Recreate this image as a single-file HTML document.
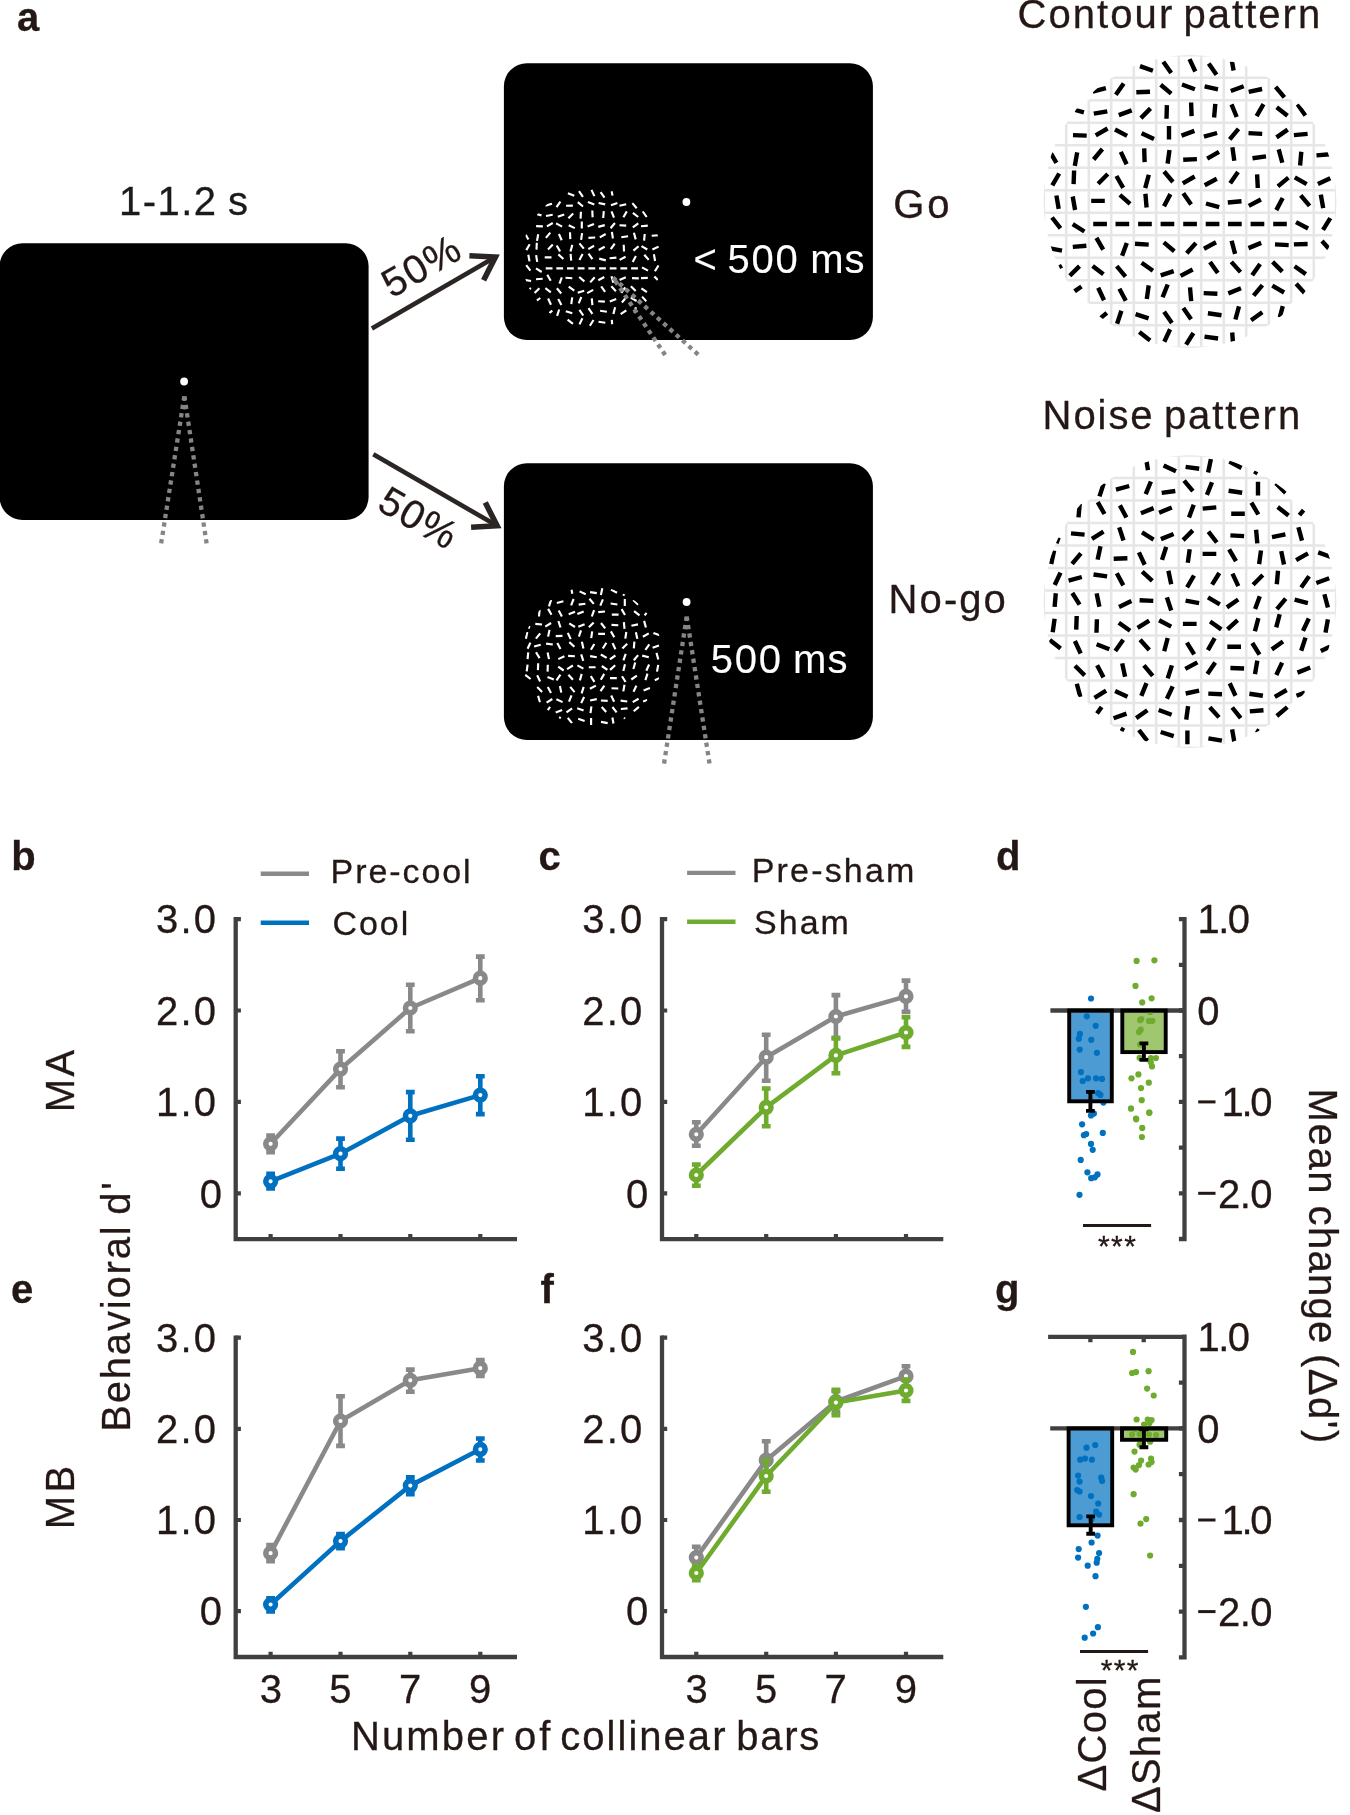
<!DOCTYPE html>
<html><head><meta charset="utf-8"><title>Figure</title>
<style>html,body{margin:0;padding:0;background:#fff}svg{display:block;will-change:transform}text{font-family:"Liberation Sans",sans-serif}</style></head><body>
<svg width="1350" height="1815" viewBox="0 0 1350 1815">
<rect width="1350" height="1815" fill="#fff"/>
<rect x="-0.4" y="243.2" width="369" height="276.8" rx="23" fill="#000"/>
<rect x="503.9" y="63.2" width="369" height="276.8" rx="23" fill="#000"/>
<rect x="503.9" y="463.2" width="369" height="276.8" rx="23" fill="#000"/>
<circle cx="184.1" cy="381.5" r="3.9" fill="#fff"/>
<circle cx="686.4" cy="202" r="3.9" fill="#fff"/>
<circle cx="686.6" cy="602" r="3.9" fill="#fff"/>
<clipPath id="cpA"><circle cx="591.8" cy="257.7" r="69.8"/></clipPath>
<g clip-path="url(#cpA)">
<path d="M567.9 193.3L574.3 195.7M579.0 191.2L582.9 196.8M591.5 189.9L594.4 196.1M600.6 192.1L604.5 197.6M611.7 191.2L612.5 195.6M545.4 205.6L552.0 203.8M556.5 207.1L560.4 201.6M566.1 205.8L572.9 205.6M577.8 202.2L583.0 206.5M587.9 202.1L594.3 204.4M598.6 203.0L605.2 204.4M611.0 205.3L617.4 202.9M619.5 205.7L626.2 204.3M632.4 203.1L636.7 208.3M537.2 214.2L541.5 215.4M546.0 216.0L552.7 214.8M557.8 216.7L564.2 214.4M568.4 218.2L573.2 213.4M580.6 218.6L580.9 211.8M592.3 210.5L592.6 217.3M603.2 218.0L603.8 211.2M611.5 211.4L614.0 217.7M623.4 217.3L626.8 211.4M632.9 212.8L638.2 217.0M642.8 211.4L646.7 217.0M536.1 226.1L542.9 226.4M546.9 226.4L552.8 223.0M556.1 223.4L562.1 226.6M568.7 225.2L574.8 228.1M581.8 228.4L581.8 221.6M587.6 226.4L594.0 224.1M598.3 226.9L604.8 225.1M610.6 228.3L614.9 223.0M619.5 225.2L626.2 225.6M632.8 227.4L638.3 223.4M641.0 226.2L647.8 225.6M525.7 234.7L528.4 239.5M537.0 240.9L538.2 234.2M545.9 237.9L550.3 232.6M558.9 234.0L561.7 240.2M570.0 232.3L570.3 239.1M581.1 239.9L582.1 233.1M588.4 237.9L595.2 237.5M599.8 237.4L605.7 234.0M611.9 231.8L612.9 238.5M621.3 237.2L628.1 236.3M633.9 232.8L635.7 239.4M644.1 240.7L644.7 234.0M651.7 235.8L658.5 235.2M526.3 250.1L529.7 244.3M536.5 249.6L536.8 242.8M548.0 249.4L552.8 244.5M556.7 245.5L560.1 251.4M570.5 251.5L572.3 244.9M579.4 243.4L583.8 248.6M588.3 249.1L594.1 245.7M598.7 250.0L604.7 246.8M610.8 249.1L614.7 243.6M623.7 244.7L624.0 251.5M633.4 250.6L638.6 246.2M641.5 246.1L647.3 249.5M652.4 249.5L658.6 246.6M528.3 254.7L529.5 261.4M536.1 255.2L537.2 261.9M544.7 257.4L551.5 257.4M558.4 254.4L563.4 259.0M570.6 253.9L571.2 260.7M579.4 260.1L582.6 254.0M588.5 253.6L592.4 259.2M599.2 258.6L605.8 260.4M609.6 258.2L616.4 257.6M619.6 259.9L625.6 256.7M632.7 261.9L635.9 255.9M644.3 254.7L648.7 259.9M653.9 254.3L655.1 261.0M526.2 265.2L530.4 270.6M536.0 268.4L541.7 272.0M545.7 268.4L552.5 268.4M556.3 268.4L563.1 268.4M567.0 268.4L573.8 268.4M577.7 268.4L584.5 268.4M588.4 268.4L595.2 268.4M599.1 268.4L605.9 268.4M609.7 268.4L616.5 268.4M620.4 268.4L627.2 268.4M631.1 268.4L637.9 268.4M642.0 267.4L648.0 270.6M654.9 271.3L658.5 265.5M524.4 279.9L531.1 281.0M536.0 279.3L542.7 278.7M547.3 274.8L550.7 280.7M559.5 283.6L561.8 277.3M565.5 277.8L572.3 278.2M579.2 277.0L584.4 281.4M590.2 282.4L594.7 277.3M598.3 280.2L604.3 277.0M611.5 276.2L613.3 282.7M619.5 279.9L625.8 277.3M632.0 278.1L638.8 278.4M641.0 278.1L647.8 277.9M654.4 276.4L657.8 280.1M529.6 287.8L530.6 289.6M534.6 293.1L539.4 288.3M545.4 288.2L550.8 292.4M556.9 288.3L561.2 293.5M568.7 286.7L574.3 290.6M577.7 292.8L584.2 290.7M587.2 293.1L593.2 289.9M601.2 286.3L605.1 291.9M611.3 286.3L615.9 291.3M621.3 292.8L625.2 287.3M630.9 286.3L635.7 291.1M641.4 288.3L646.9 292.2M536.7 300.6L540.3 298.0M548.1 298.5L551.0 304.7M558.2 299.0L561.4 305.0M571.3 304.1L572.2 297.4M578.7 303.3L581.3 297.0M591.8 298.4L592.4 305.1M598.2 301.2L604.9 301.6M609.8 301.4L616.2 298.9M621.9 302.5L626.3 297.3M630.7 297.6L636.6 301.0M642.1 296.6L646.7 301.7M549.3 313.1L552.3 310.6M557.1 315.9L559.2 309.5M565.8 311.2L572.3 313.3M579.4 309.9L583.3 315.5M588.5 308.2L592.4 313.8M600.1 310.8L606.9 311.7M613.4 313.9L615.1 307.3M620.7 314.2L626.3 310.3M634.4 312.8L635.9 307.2M567.6 319.6L572.9 323.8M579.5 324.4L582.4 318.3M589.9 325.8L593.5 320.0M598.5 321.8L605.3 322.8M611.8 319.8L612.2 324.3" stroke="#fff" stroke-width="2.15" fill="none"/>
</g>
<clipPath id="cpB"><circle cx="592.3" cy="656.6" r="70.3"/></clipPath>
<g clip-path="url(#cpB)">
<path d="M571.5 589.4L572.3 593.8M579.6 591.4L585.7 594.3M590.1 592.1L596.8 593.1M600.9 595.0L602.3 588.3M611.0 589.5L617.0 592.7M622.9 594.2L624.7 595.2M549.0 606.4L551.1 599.9M556.8 603.0L563.4 601.3M571.1 605.3L573.6 599.0M578.7 604.6L585.4 603.7M589.4 598.7L593.8 603.9M600.3 605.7L602.9 599.4M610.6 603.5L617.4 604.5M624.8 605.9L624.8 599.1M633.3 599.9L638.1 604.7M539.0 616.5L539.6 609.7M548.1 608.9L551.5 614.8M558.7 610.4L561.9 616.4M568.7 614.3L575.0 611.8M577.4 614.1L583.7 611.5M591.8 616.5L594.1 610.1M598.2 612.1L605.0 611.5M611.8 614.6L618.6 614.6M621.6 609.1L625.0 615.0M634.1 611.2L639.5 615.4M644.6 615.3L646.6 612.8M528.5 628.7L529.5 625.9M535.3 623.9L542.0 624.5M545.3 626.6L551.1 623.0M558.4 621.0L560.5 627.5M569.2 623.4L575.0 627.0M578.3 626.7L584.6 624.2M588.9 627.2L593.7 622.4M601.0 623.0L605.2 628.4M611.5 624.9L618.3 625.3M623.9 622.1L624.5 628.8M631.4 625.8L638.0 624.4M644.1 620.9L645.9 627.5M525.9 638.7L527.3 632.0M535.9 638.6L540.2 633.4M548.1 636.6L549.5 629.9M555.7 636.1L562.5 635.9M567.8 632.9L570.7 639.1M578.9 636.7L581.0 630.3M591.2 638.1L592.2 631.4M598.2 633.8L605.0 633.8M610.9 631.4L614.3 637.3M625.3 638.7L626.3 632.0M635.9 632.3L637.3 638.9M642.9 636.8L648.8 633.4M653.4 633.0L659.8 635.3M527.6 648.7L530.4 642.6M534.1 646.5L540.7 644.8M546.1 643.6L552.8 644.5M557.3 642.9L560.5 648.9M569.3 642.1L574.4 646.7M581.9 641.7L583.4 648.4M590.9 649.8L594.3 644.0M602.8 648.5L606.4 642.8M612.6 643.1L615.4 649.2M622.4 648.6L627.2 643.8M633.8 648.4L634.4 641.7M645.4 649.9L649.3 644.4M652.6 647.7L659.0 645.4M527.6 659.2L528.2 652.4M536.0 652.3L539.6 658.1M547.6 652.5L549.0 659.1M558.3 659.1L564.4 656.2M568.1 655.9L574.9 656.2M581.2 654.4L583.3 660.9M590.1 656.1L596.8 657.3M600.8 654.5L606.7 657.9M609.9 659.4L615.4 655.5M623.4 660.3L625.7 653.9M633.8 660.3L638.1 655.1M642.2 655.6L648.8 657.3M656.5 652.9L658.3 659.5M526.7 671.3L527.6 664.6M537.9 670.1L538.2 663.3M547.6 671.6L547.8 664.8M558.2 666.6L563.7 670.5M567.1 669.1L572.9 665.5M577.4 665.4L583.4 668.6M588.8 667.2L595.6 667.2M601.8 666.0L607.4 669.9M610.1 669.9L615.2 665.3M623.3 670.9L625.0 664.3M633.4 669.0L635.2 662.5M646.3 670.7L649.1 664.5M657.0 671.6L658.2 664.9M525.2 674.8L530.6 679.0M537.2 675.3L540.1 681.5M547.5 676.9L553.8 679.4M556.5 680.3L560.4 674.7M568.4 674.7L572.9 679.8M579.9 680.4L581.7 673.9M590.8 676.1L594.4 681.9M600.8 679.8L604.2 673.9M610.0 678.1L616.8 678.1M622.0 676.2L625.6 682.0M631.3 679.5L636.9 675.6M645.4 680.1L647.5 673.7M654.8 680.2L659.3 678.1M537.2 687.1L542.1 691.9M547.8 686.9L551.0 692.9M559.9 686.0L561.3 692.6M570.2 686.9L574.6 692.1M581.6 693.4L583.7 686.9M589.9 688.8L595.9 685.6M600.5 691.2L604.4 685.6M611.5 688.3L618.3 688.5M623.3 691.4L624.5 684.7M633.5 691.7L636.4 685.6M643.6 690.6L649.9 688.0M538.1 695.7L539.9 702.2M546.6 702.6L552.3 699.0M556.4 699.2L562.6 702.1M569.0 701.7L571.5 695.4M581.2 703.1L584.1 697.0M590.1 700.5L596.8 699.1M600.9 700.5L607.7 700.9M611.2 695.5L614.1 701.7M620.6 700.6L627.3 701.5M632.7 702.1L638.6 698.7M643.1 701.6L647.3 700.0M547.8 710.1L550.1 706.9M555.7 712.4L562.1 710.1M566.5 712.3L572.1 708.4M577.2 708.3L583.6 710.6M590.5 713.1L591.4 706.4M601.7 707.0L606.2 712.0M612.4 707.0L616.6 712.4M620.8 709.0L627.6 708.4M633.7 711.3L638.9 706.9M559.1 717.3L560.8 718.3M567.8 717.8L572.0 723.2M578.2 718.8L584.6 720.9M591.1 724.9L591.1 718.1M601.0 721.9L607.7 723.1M612.4 717.5L613.6 724.2M623.9 718.0L625.2 718.8" stroke="#fff" stroke-width="2.15" fill="none"/>
</g>
<line x1="184.3" y1="396.4" x2="161.1" y2="543.8" stroke="#858585" stroke-width="4.3" stroke-dasharray="4.3 4.2"/>
<line x1="184.4" y1="396.4" x2="206.6" y2="543.4" stroke="#858585" stroke-width="4.3" stroke-dasharray="4.3 4.2"/>
<line x1="613" y1="277.6" x2="666.9" y2="357.6" stroke="#858585" stroke-width="4.3" stroke-dasharray="4.3 4.2" stroke-dashoffset="-4.1"/>
<line x1="613" y1="277.6" x2="698.5" y2="354.9" stroke="#858585" stroke-width="4.3" stroke-dasharray="4.3 4.2"/>
<line x1="686.7" y1="616.6" x2="664.0" y2="764" stroke="#858585" stroke-width="4.3" stroke-dasharray="4.3 4.2"/>
<line x1="686.7" y1="616.6" x2="709.5" y2="763.5" stroke="#858585" stroke-width="4.3" stroke-dasharray="4.3 4.2"/>
<path d="M371.9 328.4L495.4 257.0" stroke="#2b2624" stroke-width="4.6" fill="none"/>
<path d="M483.6 280.2L495.4 257.0L469.4 255.7" stroke="#2b2624" stroke-width="5.6" fill="none" stroke-linejoin="miter" stroke-miterlimit="10"/>
<path d="M373.3 454.3L497.1 525.8" stroke="#2b2624" stroke-width="4.6" fill="none"/>
<path d="M471.1 527.2L497.1 525.8L485.3 502.6" stroke="#2b2624" stroke-width="5.6" fill="none" stroke-linejoin="miter" stroke-miterlimit="10"/>
<text x="-42.00" y="0.00" font-size="40" letter-spacing="1.500" font-weight="normal" fill="#231815" stroke="#231815" stroke-width="0.3" transform="translate(428.2 277.7) rotate(-30)">50%</text>
<text x="-42.00" y="0.00" font-size="40" letter-spacing="1.500" font-weight="normal" fill="#231815" stroke="#231815" stroke-width="0.3" transform="translate(411.8 529.8) rotate(30)">50%</text>
<text x="119.00" y="214.90" font-size="40" letter-spacing="1.475" font-weight="normal" fill="#1c1a1a" stroke="#1c1a1a" stroke-width="0.3">1-1.2</text>
<text x="228.10" y="214.90" font-size="40" letter-spacing="0.000" font-weight="normal" fill="#1c1a1a" stroke="#1c1a1a" stroke-width="0.3">s</text>
<text x="693.60" y="272.80" font-size="40" letter-spacing="0.000" font-weight="normal" fill="#fff" stroke="#fff" stroke-width="0.12">&lt;</text>
<text x="727.60" y="272.80" font-size="40" letter-spacing="1.750" font-weight="normal" fill="#fff" stroke="#fff" stroke-width="0.12">500</text>
<text x="810.20" y="272.80" font-size="40" letter-spacing="1.100" font-weight="normal" fill="#fff" stroke="#fff" stroke-width="0.12">ms</text>
<text x="710.70" y="672.80" font-size="40" letter-spacing="1.750" font-weight="normal" fill="#fff" stroke="#fff" stroke-width="0.12">500</text>
<text x="793.10" y="672.80" font-size="40" letter-spacing="1.100" font-weight="normal" fill="#fff" stroke="#fff" stroke-width="0.12">ms</text>
<text x="893.30" y="217.90" font-size="40" letter-spacing="2.900" font-weight="normal" fill="#231815" stroke="#231815" stroke-width="0.3">Go</text>
<text x="888.60" y="612.80" font-size="40" letter-spacing="2.075" font-weight="normal" fill="#231815" stroke="#231815" stroke-width="0.3">No-go</text>
<text x="1017.50" y="28.00" font-size="40" letter-spacing="2.067" font-weight="normal" fill="#231815" stroke="#231815" stroke-width="0.3">Contour</text>
<text x="1183.40" y="28.00" font-size="40" letter-spacing="2.050" font-weight="normal" fill="#231815" stroke="#231815" stroke-width="0.3">pattern</text>
<text x="1042.60" y="428.80" font-size="40" letter-spacing="1.925" font-weight="normal" fill="#231815" stroke="#231815" stroke-width="0.3">Noise</text>
<text x="1163.90" y="428.80" font-size="40" letter-spacing="1.950" font-weight="normal" fill="#231815" stroke="#231815" stroke-width="0.3">pattern</text>
<text x="17.00" y="31.30" font-size="40" letter-spacing="0.000" font-weight="bold" fill="#231815" stroke="#231815" stroke-width="0.3">a</text>
<clipPath id="cpC"><circle cx="1190" cy="201.5" r="146.4"/></clipPath>
<g clip-path="url(#cpC)">
<path d="M1133.8 55.2H1246.2M1133.8 77.8H1246.2M1133.8 55.2V77.8M1156.2 55.2V77.8M1178.8 55.2V77.8M1201.2 55.2V77.8M1223.8 55.2V77.8M1246.2 55.2V77.8M1111.2 77.8H1268.8M1111.2 100.2H1268.8M1111.2 77.8V100.2M1133.8 77.8V100.2M1156.2 77.8V100.2M1178.8 77.8V100.2M1201.2 77.8V100.2M1223.8 77.8V100.2M1246.2 77.8V100.2M1268.8 77.8V100.2M1088.8 100.2H1291.2M1088.8 122.8H1291.2M1088.8 100.2V122.8M1111.2 100.2V122.8M1133.8 100.2V122.8M1156.2 100.2V122.8M1178.8 100.2V122.8M1201.2 100.2V122.8M1223.8 100.2V122.8M1246.2 100.2V122.8M1268.8 100.2V122.8M1291.2 100.2V122.8M1066.2 122.8H1313.8M1066.2 145.2H1313.8M1066.2 122.8V145.2M1088.8 122.8V145.2M1111.2 122.8V145.2M1133.8 122.8V145.2M1156.2 122.8V145.2M1178.8 122.8V145.2M1201.2 122.8V145.2M1223.8 122.8V145.2M1246.2 122.8V145.2M1268.8 122.8V145.2M1291.2 122.8V145.2M1313.8 122.8V145.2M1043.8 145.2H1336.2M1043.8 167.8H1336.2M1043.8 145.2V167.8M1066.2 145.2V167.8M1088.8 145.2V167.8M1111.2 145.2V167.8M1133.8 145.2V167.8M1156.2 145.2V167.8M1178.8 145.2V167.8M1201.2 145.2V167.8M1223.8 145.2V167.8M1246.2 145.2V167.8M1268.8 145.2V167.8M1291.2 145.2V167.8M1313.8 145.2V167.8M1336.2 145.2V167.8M1043.8 167.8H1336.2M1043.8 190.2H1336.2M1043.8 167.8V190.2M1066.2 167.8V190.2M1088.8 167.8V190.2M1111.2 167.8V190.2M1133.8 167.8V190.2M1156.2 167.8V190.2M1178.8 167.8V190.2M1201.2 167.8V190.2M1223.8 167.8V190.2M1246.2 167.8V190.2M1268.8 167.8V190.2M1291.2 167.8V190.2M1313.8 167.8V190.2M1336.2 167.8V190.2M1043.8 190.2H1336.2M1043.8 212.8H1336.2M1043.8 190.2V212.8M1066.2 190.2V212.8M1088.8 190.2V212.8M1111.2 190.2V212.8M1133.8 190.2V212.8M1156.2 190.2V212.8M1178.8 190.2V212.8M1201.2 190.2V212.8M1223.8 190.2V212.8M1246.2 190.2V212.8M1268.8 190.2V212.8M1291.2 190.2V212.8M1313.8 190.2V212.8M1336.2 190.2V212.8M1043.8 212.8H1336.2M1043.8 235.2H1336.2M1043.8 212.8V235.2M1066.2 212.8V235.2M1088.8 212.8V235.2M1111.2 212.8V235.2M1133.8 212.8V235.2M1156.2 212.8V235.2M1178.8 212.8V235.2M1201.2 212.8V235.2M1223.8 212.8V235.2M1246.2 212.8V235.2M1268.8 212.8V235.2M1291.2 212.8V235.2M1313.8 212.8V235.2M1336.2 212.8V235.2M1043.8 235.2H1336.2M1043.8 257.8H1336.2M1043.8 235.2V257.8M1066.2 235.2V257.8M1088.8 235.2V257.8M1111.2 235.2V257.8M1133.8 235.2V257.8M1156.2 235.2V257.8M1178.8 235.2V257.8M1201.2 235.2V257.8M1223.8 235.2V257.8M1246.2 235.2V257.8M1268.8 235.2V257.8M1291.2 235.2V257.8M1313.8 235.2V257.8M1336.2 235.2V257.8M1066.2 257.8H1313.8M1066.2 280.2H1313.8M1066.2 257.8V280.2M1088.8 257.8V280.2M1111.2 257.8V280.2M1133.8 257.8V280.2M1156.2 257.8V280.2M1178.8 257.8V280.2M1201.2 257.8V280.2M1223.8 257.8V280.2M1246.2 257.8V280.2M1268.8 257.8V280.2M1291.2 257.8V280.2M1313.8 257.8V280.2M1088.8 280.2H1291.2M1088.8 302.8H1291.2M1088.8 280.2V302.8M1111.2 280.2V302.8M1133.8 280.2V302.8M1156.2 280.2V302.8M1178.8 280.2V302.8M1201.2 280.2V302.8M1223.8 280.2V302.8M1246.2 280.2V302.8M1268.8 280.2V302.8M1291.2 280.2V302.8M1111.2 302.8H1268.8M1111.2 325.2H1268.8M1111.2 302.8V325.2M1133.8 302.8V325.2M1156.2 302.8V325.2M1178.8 302.8V325.2M1201.2 302.8V325.2M1223.8 302.8V325.2M1246.2 302.8V325.2M1268.8 302.8V325.2M1133.8 325.2H1246.2M1133.8 347.8H1246.2M1133.8 325.2V347.8M1156.2 325.2V347.8M1178.8 325.2V347.8M1201.2 325.2V347.8M1223.8 325.2V347.8M1246.2 325.2V347.8" stroke="#e6e6e6" stroke-width="2.6" fill="none"/>
<path d="M1140.0 66.1L1152.9 70.8M1163.3 61.8L1171.2 73.0M1189.5 59.1L1195.3 71.5M1208.7 63.6L1216.5 74.8M1232.0 61.7L1233.6 70.5M1092.7 91.7L1105.9 88.2M1115.8 94.8L1123.7 83.6M1136.3 92.3L1150.0 91.8M1160.7 84.8L1171.2 93.6M1182.0 84.5L1194.9 89.2M1204.6 86.4L1218.0 89.3M1230.8 91.0L1243.7 86.3M1248.7 91.9L1262.1 89.0M1275.6 86.8L1284.4 97.3M1075.2 110.0L1083.9 112.4M1093.8 113.7L1107.3 111.3M1118.8 115.1L1131.7 110.4M1140.9 118.1L1150.5 108.4M1166.5 118.8L1166.9 105.1M1191.1 102.5L1191.6 116.2M1214.1 117.5L1215.3 103.9M1231.5 104.3L1236.7 117.0M1256.6 116.1L1263.5 104.2M1276.7 107.2L1287.5 115.7M1297.6 104.3L1305.4 115.5M1073.0 135.1L1086.7 135.6M1095.7 135.4L1107.6 128.5M1115.0 129.5L1127.1 135.9M1141.6 133.2L1154.0 139.0M1169.0 139.6L1169.0 125.9M1181.5 135.6L1194.4 130.9M1203.9 136.6L1217.1 133.0M1229.7 139.3L1238.5 128.8M1248.5 133.1L1262.2 133.9M1276.5 137.4L1287.7 129.6M1293.9 135.1L1307.6 133.9M1050.9 153.4L1056.4 162.9M1074.8 165.9L1077.2 152.4M1093.6 159.5L1102.4 149.0M1120.8 151.9L1126.6 164.3M1144.2 148.4L1144.6 162.1M1167.6 163.6L1169.5 150.0M1183.2 159.8L1196.9 159.1M1207.2 158.7L1219.0 151.9M1232.4 147.2L1234.3 160.8M1252.5 158.3L1266.0 156.4M1278.7 149.4L1282.3 162.7M1300.1 165.5L1301.3 151.8M1316.5 155.4L1330.1 154.2M1052.3 185.3L1059.2 173.5M1073.6 184.2L1074.1 170.5M1098.1 183.7L1107.8 174.0M1116.4 176.0L1123.2 187.9M1145.2 188.1L1148.8 174.8M1164.1 171.5L1172.9 182.0M1182.8 183.3L1194.7 176.5M1204.7 185.2L1216.8 178.8M1230.2 183.2L1238.0 172.0M1257.1 174.4L1257.8 188.0M1277.9 186.4L1288.4 177.6M1294.8 177.3L1306.7 184.1M1317.9 184.1L1330.3 178.3M1056.4 195.5L1058.7 208.9M1072.7 196.5L1075.1 210.0M1091.2 200.9L1104.8 200.9M1119.9 194.8L1130.1 203.9M1145.4 193.8L1146.6 207.5M1164.0 206.2L1170.4 194.1M1183.3 193.2L1191.1 204.4M1206.0 203.5L1219.2 207.1M1227.8 202.5L1241.5 201.3M1248.8 205.9L1260.9 199.5M1276.3 210.1L1282.7 198.0M1300.7 195.4L1309.6 205.9M1320.8 194.7L1323.2 208.2M1052.0 217.5L1060.5 228.3M1072.7 224.2L1084.4 231.5M1093.2 224.0L1106.9 224.0M1115.5 224.0L1129.2 224.0M1138.1 224.0L1151.8 224.0M1160.6 224.0L1174.3 224.0M1183.2 224.0L1196.9 224.0M1205.7 224.0L1219.4 224.0M1228.0 224.0L1241.7 224.0M1250.6 224.0L1264.3 224.0M1273.2 224.0L1286.8 224.0M1296.0 222.1L1308.1 228.5M1323.0 229.8L1330.3 218.2M1048.5 248.2L1062.0 250.6M1072.8 246.9L1086.4 245.7M1096.4 237.8L1103.2 249.6M1122.1 255.8L1126.8 243.0M1135.0 243.8L1148.7 244.6M1163.8 242.4L1174.3 251.2M1186.7 253.2L1195.9 243.0M1204.0 248.7L1216.0 242.3M1231.6 240.7L1235.1 253.9M1248.5 248.1L1261.2 242.9M1275.0 244.4L1288.7 245.1M1293.9 244.4L1307.6 244.0M1322.0 241.0L1328.7 248.4M1059.1 265.0L1061.1 268.5M1069.8 275.8L1079.5 266.1M1092.6 265.9L1103.4 274.3M1116.7 266.2L1125.5 276.7M1141.6 262.8L1152.9 270.7M1160.7 275.4L1173.7 271.1M1180.6 275.9L1192.7 269.5M1210.0 261.9L1217.8 273.1M1231.3 261.9L1240.5 272.1M1252.2 275.2L1260.1 264.0M1272.6 261.9L1282.3 271.6M1294.6 266.2L1305.8 274.1M1074.1 291.6L1081.5 286.5M1098.2 287.8L1104.0 300.2M1119.4 288.7L1125.8 300.8M1146.8 299.0L1148.7 285.4M1162.6 297.2L1167.7 284.5M1190.0 287.4L1191.2 301.1M1203.7 293.1L1217.4 293.8M1228.3 293.4L1241.0 288.3M1253.6 295.6L1262.4 285.1M1272.3 285.6L1284.1 292.5M1296.2 283.7L1305.3 293.9M1100.6 318.1L1106.8 312.9M1117.1 323.8L1121.4 310.8M1135.6 314.2L1148.6 318.4M1164.1 311.7L1171.9 322.9M1183.3 308.1L1191.1 319.3M1207.9 313.3L1221.5 315.2M1235.4 319.5L1239.0 306.3M1251.1 320.2L1262.3 312.3M1279.8 317.2L1282.8 306.1M1139.3 332.0L1150.1 340.5M1164.3 341.7L1170.1 329.3M1186.1 344.6L1193.4 333.0M1204.5 336.6L1218.1 338.5M1232.2 332.5L1232.9 341.5" stroke="#000" stroke-width="4.4" fill="none"/>
</g>
<clipPath id="cpD"><circle cx="1190" cy="601.7" r="146.4"/></clipPath>
<g clip-path="url(#cpD)">
<path d="M1133.8 455.5H1246.2M1133.8 478.0H1246.2M1133.8 455.5V478.0M1156.2 455.5V478.0M1178.8 455.5V478.0M1201.2 455.5V478.0M1223.8 455.5V478.0M1246.2 455.5V478.0M1111.2 478.0H1268.8M1111.2 500.5H1268.8M1111.2 478.0V500.5M1133.8 478.0V500.5M1156.2 478.0V500.5M1178.8 478.0V500.5M1201.2 478.0V500.5M1223.8 478.0V500.5M1246.2 478.0V500.5M1268.8 478.0V500.5M1088.8 500.5H1291.2M1088.8 523.0H1291.2M1088.8 500.5V523.0M1111.2 500.5V523.0M1133.8 500.5V523.0M1156.2 500.5V523.0M1178.8 500.5V523.0M1201.2 500.5V523.0M1223.8 500.5V523.0M1246.2 500.5V523.0M1268.8 500.5V523.0M1291.2 500.5V523.0M1066.2 523.0H1313.8M1066.2 545.5H1313.8M1066.2 523.0V545.5M1088.8 523.0V545.5M1111.2 523.0V545.5M1133.8 523.0V545.5M1156.2 523.0V545.5M1178.8 523.0V545.5M1201.2 523.0V545.5M1223.8 523.0V545.5M1246.2 523.0V545.5M1268.8 523.0V545.5M1291.2 523.0V545.5M1313.8 523.0V545.5M1043.8 545.5H1336.2M1043.8 568.0H1336.2M1043.8 545.5V568.0M1066.2 545.5V568.0M1088.8 545.5V568.0M1111.2 545.5V568.0M1133.8 545.5V568.0M1156.2 545.5V568.0M1178.8 545.5V568.0M1201.2 545.5V568.0M1223.8 545.5V568.0M1246.2 545.5V568.0M1268.8 545.5V568.0M1291.2 545.5V568.0M1313.8 545.5V568.0M1336.2 545.5V568.0M1043.8 568.0H1336.2M1043.8 590.5H1336.2M1043.8 568.0V590.5M1066.2 568.0V590.5M1088.8 568.0V590.5M1111.2 568.0V590.5M1133.8 568.0V590.5M1156.2 568.0V590.5M1178.8 568.0V590.5M1201.2 568.0V590.5M1223.8 568.0V590.5M1246.2 568.0V590.5M1268.8 568.0V590.5M1291.2 568.0V590.5M1313.8 568.0V590.5M1336.2 568.0V590.5M1043.8 590.5H1336.2M1043.8 613.0H1336.2M1043.8 590.5V613.0M1066.2 590.5V613.0M1088.8 590.5V613.0M1111.2 590.5V613.0M1133.8 590.5V613.0M1156.2 590.5V613.0M1178.8 590.5V613.0M1201.2 590.5V613.0M1223.8 590.5V613.0M1246.2 590.5V613.0M1268.8 590.5V613.0M1291.2 590.5V613.0M1313.8 590.5V613.0M1336.2 590.5V613.0M1043.8 613.0H1336.2M1043.8 635.5H1336.2M1043.8 613.0V635.5M1066.2 613.0V635.5M1088.8 613.0V635.5M1111.2 613.0V635.5M1133.8 613.0V635.5M1156.2 613.0V635.5M1178.8 613.0V635.5M1201.2 613.0V635.5M1223.8 613.0V635.5M1246.2 613.0V635.5M1268.8 613.0V635.5M1291.2 613.0V635.5M1313.8 613.0V635.5M1336.2 613.0V635.5M1043.8 635.5H1336.2M1043.8 658.0H1336.2M1043.8 635.5V658.0M1066.2 635.5V658.0M1088.8 635.5V658.0M1111.2 635.5V658.0M1133.8 635.5V658.0M1156.2 635.5V658.0M1178.8 635.5V658.0M1201.2 635.5V658.0M1223.8 635.5V658.0M1246.2 635.5V658.0M1268.8 635.5V658.0M1291.2 635.5V658.0M1313.8 635.5V658.0M1336.2 635.5V658.0M1066.2 658.0H1313.8M1066.2 680.5H1313.8M1066.2 658.0V680.5M1088.8 658.0V680.5M1111.2 658.0V680.5M1133.8 658.0V680.5M1156.2 658.0V680.5M1178.8 658.0V680.5M1201.2 658.0V680.5M1223.8 658.0V680.5M1246.2 658.0V680.5M1268.8 658.0V680.5M1291.2 658.0V680.5M1313.8 658.0V680.5M1088.8 680.5H1291.2M1088.8 703.0H1291.2M1088.8 680.5V703.0M1111.2 680.5V703.0M1133.8 680.5V703.0M1156.2 680.5V703.0M1178.8 680.5V703.0M1201.2 680.5V703.0M1223.8 680.5V703.0M1246.2 680.5V703.0M1268.8 680.5V703.0M1291.2 680.5V703.0M1111.2 703.0H1268.8M1111.2 725.5H1268.8M1111.2 703.0V725.5M1133.8 703.0V725.5M1156.2 703.0V725.5M1178.8 703.0V725.5M1201.2 703.0V725.5M1223.8 703.0V725.5M1246.2 703.0V725.5M1268.8 703.0V725.5M1133.8 725.5H1246.2M1133.8 748.0H1246.2M1133.8 725.5V748.0M1156.2 725.5V748.0M1178.8 725.5V748.0M1201.2 725.5V748.0M1223.8 725.5V748.0M1246.2 725.5V748.0" stroke="#e6e6e6" stroke-width="2.6" fill="none"/>
<path d="M1146.5 461.3L1148.0 470.2M1163.6 465.5L1176.0 471.3M1185.6 466.9L1199.2 468.8M1208.1 472.5L1210.9 459.1M1229.4 461.5L1241.5 468.0M1254.2 471.3L1257.6 473.3M1099.5 496.4L1103.7 483.4M1116.0 489.6L1129.2 486.0M1145.7 494.2L1150.9 481.5M1161.7 492.9L1175.3 491.0M1184.1 480.7L1192.9 491.2M1206.9 494.9L1212.0 482.2M1228.6 490.7L1242.2 492.7M1258.0 495.4L1258.0 481.7M1275.9 483.2L1285.6 492.9M1078.5 517.4L1079.7 503.8M1097.7 502.1L1104.5 514.0M1119.9 505.4L1126.4 517.5M1140.9 513.2L1153.6 508.1M1159.1 512.7L1171.8 507.5M1189.0 517.6L1193.7 504.7M1202.7 508.6L1216.3 507.4M1231.2 513.7L1244.8 513.7M1251.4 502.6L1258.3 514.5M1277.7 506.9L1288.5 515.4M1299.4 515.2L1303.6 510.2M1056.5 543.3L1058.6 537.6M1071.0 533.4L1084.6 534.6M1091.9 538.9L1103.5 531.6M1119.2 527.4L1123.5 540.5M1142.0 532.4L1153.6 539.7M1160.9 539.1L1173.6 534.0M1183.1 540.1L1192.8 530.4M1208.4 531.7L1216.8 542.5M1230.4 535.4L1244.1 536.1M1256.1 529.7L1257.3 543.4M1272.0 537.2L1285.4 534.3M1298.4 527.3L1302.0 540.6M1051.2 564.0L1054.1 550.6M1072.1 563.8L1080.9 553.3M1097.6 559.6L1100.5 546.2M1113.7 558.8L1127.4 558.3M1138.9 552.4L1144.7 564.8M1162.0 559.9L1166.2 546.9M1187.8 562.8L1189.7 549.2M1202.6 553.9L1216.3 553.9M1229.1 549.3L1236.0 561.2M1259.1 564.1L1261.0 550.5M1281.2 551.1L1284.0 564.5M1296.1 560.2L1308.0 553.3M1318.2 552.4L1331.0 557.0M1054.7 585.0L1060.5 572.6M1068.6 580.6L1081.8 577.0M1093.5 574.5L1107.1 576.4M1116.8 573.3L1123.3 585.4M1142.2 571.6L1152.3 580.8M1168.4 570.8L1171.2 584.2M1187.1 587.3L1194.0 575.5M1212.1 584.6L1219.3 573.0M1232.5 573.6L1238.3 586.1M1253.1 584.7L1262.8 575.0M1276.8 584.3L1278.0 570.7M1301.2 587.5L1309.1 576.3M1316.3 583.0L1329.2 578.3M1054.6 606.9L1055.8 593.2M1072.3 593.0L1079.6 604.6M1096.6 593.4L1099.4 606.8M1119.0 606.9L1131.4 601.1M1139.6 600.2L1153.3 600.9M1166.9 597.4L1171.2 610.5M1185.6 600.7L1199.1 603.1M1208.0 597.4L1219.8 604.3M1226.9 607.4L1238.2 599.5M1255.1 609.1L1259.8 596.2M1276.9 609.2L1285.7 598.7M1294.6 599.6L1307.9 603.1M1324.4 594.2L1327.9 607.5M1052.7 632.3L1054.6 618.7M1076.2 629.7L1076.7 616.0M1096.5 632.8L1096.9 619.2M1118.8 622.8L1130.1 630.7M1137.6 627.8L1149.2 620.6M1159.1 620.2L1171.2 626.6M1182.9 623.9L1196.6 623.9M1210.1 621.5L1221.3 629.4M1227.5 629.3L1237.6 620.1M1254.9 631.3L1258.4 618.1M1276.2 627.4L1279.7 614.2M1303.0 630.9L1308.8 618.5M1325.5 632.7L1327.9 619.3M1049.8 639.9L1060.6 648.4M1074.9 641.0L1080.7 653.5M1096.6 644.2L1109.3 649.3M1115.3 651.1L1123.2 639.8M1140.1 639.8L1149.3 650.0M1164.2 651.3L1167.7 638.0M1186.9 642.7L1194.2 654.4M1207.9 650.1L1214.7 638.2M1227.3 646.7L1241.0 646.7M1252.3 643.0L1259.5 654.6M1271.8 649.4L1283.0 641.5M1301.2 650.7L1305.5 637.6M1320.8 650.9L1329.9 646.7M1075.0 665.7L1084.7 675.4M1097.1 665.3L1103.5 677.4M1122.2 663.4L1125.1 676.8M1143.9 665.3L1152.7 675.8M1167.7 678.4L1171.9 665.4M1185.3 668.9L1197.4 662.4M1207.4 673.9L1215.2 662.6M1230.4 668.0L1244.1 668.5M1255.0 674.2L1257.3 660.7M1276.3 675.0L1282.1 662.6M1297.5 672.6L1310.2 667.5M1076.8 683.7L1080.3 696.9M1094.5 697.8L1106.1 690.6M1115.1 691.0L1127.5 696.8M1141.3 695.9L1146.5 683.2M1166.9 698.8L1172.7 686.4M1185.7 693.5L1199.1 690.7M1208.3 693.6L1222.0 694.3M1229.7 683.3L1235.5 695.7M1249.4 693.7L1262.9 695.7M1274.8 696.8L1286.7 690.0M1296.5 695.7L1305.0 692.6M1097.0 713.5L1101.6 707.0M1113.6 718.3L1126.5 713.6M1136.2 718.1L1147.4 710.2M1158.7 710.0L1171.6 714.7M1186.2 719.6L1188.1 706.1M1209.8 707.2L1219.0 717.4M1232.2 707.5L1240.7 718.2M1249.8 711.4L1263.5 710.2M1276.8 716.0L1287.3 707.1M1120.6 728.7L1124.1 730.7M1138.9 730.0L1147.3 740.8M1160.7 732.0L1173.7 736.2M1187.4 744.3L1187.4 730.6M1208.4 738.4L1221.9 740.7M1232.1 729.4L1234.5 742.9M1256.1 730.2L1258.7 731.7" stroke="#000" stroke-width="4.4" fill="none"/>
</g>
<path d="M235.7 916.95V1241.3500000000001M233.54999999999998 1239.2H517.0" stroke="#404040" stroke-width="4.3" fill="none"/>
<path d="M235.7 1193.3h5.2M235.7 1101.9h5.2M235.7 1010.5h5.2M235.7 919.1h5.2M270.6 1239.2v-5.2M340.5 1239.2v-5.2M410.3 1239.2v-5.2M480.3 1239.2v-5.2" stroke="#404040" stroke-width="4.2" fill="none"/>
<text x="199.70" y="1207.50" font-size="40" letter-spacing="2.200" font-weight="normal" fill="#231815" stroke="#231815" stroke-width="0.3">0</text>
<text x="156.00" y="1116.10" font-size="40" letter-spacing="2.200" font-weight="normal" fill="#231815" stroke="#231815" stroke-width="0.3">1.0</text>
<text x="156.00" y="1024.70" font-size="40" letter-spacing="2.200" font-weight="normal" fill="#231815" stroke="#231815" stroke-width="0.3">2.0</text>
<text x="156.00" y="933.30" font-size="40" letter-spacing="2.200" font-weight="normal" fill="#231815" stroke="#231815" stroke-width="0.3">3.0</text>
<path d="M270.6 1135.5V1152.1M266.20000000000005 1135.5h8.8M266.20000000000005 1152.1h8.8M340.5 1051.3V1087.2M336.1 1051.3h8.8M336.1 1087.2h8.8M410.3 984.7V1031.3M405.90000000000003 984.7h8.8M405.90000000000003 1031.3h8.8M480.3 956.6V1000.3M475.90000000000003 956.6h8.8M475.90000000000003 1000.3h8.8" stroke="#898989" stroke-width="4.6" fill="none"/>
<polyline points="270.6,1143.8 340.5,1069.1 410.3,1008.0 480.3,978.2" stroke="#898989" stroke-width="4.6" fill="none" stroke-linejoin="round"/>
<circle cx="270.6" cy="1143.8" r="4.85" stroke="#898989" stroke-width="5.5" fill="#fff"/>
<circle cx="340.5" cy="1069.1" r="4.85" stroke="#898989" stroke-width="5.5" fill="#fff"/>
<circle cx="410.3" cy="1008.0" r="4.85" stroke="#898989" stroke-width="5.5" fill="#fff"/>
<circle cx="480.3" cy="978.2" r="4.85" stroke="#898989" stroke-width="5.5" fill="#fff"/>
<path d="M270.6 1173.8V1188.5M266.20000000000005 1173.8h8.8M266.20000000000005 1188.5h8.8M340.5 1138.6V1168.7M336.1 1138.6h8.8M336.1 1168.7h8.8M410.3 1092.1V1139.7M405.90000000000003 1092.1h8.8M405.90000000000003 1139.7h8.8M480.3 1076.3V1114.1M475.90000000000003 1076.3h8.8M475.90000000000003 1114.1h8.8" stroke="#0070C0" stroke-width="4.6" fill="none"/>
<polyline points="270.6,1181.3 340.5,1153.7 410.3,1115.8 480.3,1095.1" stroke="#0070C0" stroke-width="4.6" fill="none" stroke-linejoin="round"/>
<circle cx="270.6" cy="1181.3" r="4.85" stroke="#0070C0" stroke-width="5.5" fill="#fff"/>
<circle cx="340.5" cy="1153.7" r="4.85" stroke="#0070C0" stroke-width="5.5" fill="#fff"/>
<circle cx="410.3" cy="1115.8" r="4.85" stroke="#0070C0" stroke-width="5.5" fill="#fff"/>
<circle cx="480.3" cy="1095.1" r="4.85" stroke="#0070C0" stroke-width="5.5" fill="#fff"/>
<path d="M662 916.95V1241.3500000000001M659.85 1239.2H943.3" stroke="#404040" stroke-width="4.3" fill="none"/>
<path d="M662 1193.3h5.2M662 1101.9h5.2M662 1010.5h5.2M662 919.1h5.2M696.3 1239.2v-5.2M766.2 1239.2v-5.2M835.9 1239.2v-5.2M906.0 1239.2v-5.2" stroke="#404040" stroke-width="4.2" fill="none"/>
<text x="626.00" y="1207.50" font-size="40" letter-spacing="2.200" font-weight="normal" fill="#231815" stroke="#231815" stroke-width="0.3">0</text>
<text x="582.30" y="1116.10" font-size="40" letter-spacing="2.200" font-weight="normal" fill="#231815" stroke="#231815" stroke-width="0.3">1.0</text>
<text x="582.30" y="1024.70" font-size="40" letter-spacing="2.200" font-weight="normal" fill="#231815" stroke="#231815" stroke-width="0.3">2.0</text>
<text x="582.30" y="933.30" font-size="40" letter-spacing="2.200" font-weight="normal" fill="#231815" stroke="#231815" stroke-width="0.3">3.0</text>
<path d="M696.3 1122.3V1145.7M691.9 1122.3h8.8M691.9 1145.7h8.8M766.2 1034.8V1080.7M761.8000000000001 1034.8h8.8M761.8000000000001 1080.7h8.8M835.9 995.1V1038.1M831.5 995.1h8.8M831.5 1038.1h8.8M906.0 980.6V1011.9M901.6 980.6h8.8M901.6 1011.9h8.8" stroke="#898989" stroke-width="4.6" fill="none"/>
<polyline points="696.3,1134.3 766.2,1057.2 835.9,1016.5 906.0,996.4" stroke="#898989" stroke-width="4.6" fill="none" stroke-linejoin="round"/>
<circle cx="696.3" cy="1134.3" r="4.85" stroke="#898989" stroke-width="5.5" fill="#fff"/>
<circle cx="766.2" cy="1057.2" r="4.85" stroke="#898989" stroke-width="5.5" fill="#fff"/>
<circle cx="835.9" cy="1016.5" r="4.85" stroke="#898989" stroke-width="5.5" fill="#fff"/>
<circle cx="906.0" cy="996.4" r="4.85" stroke="#898989" stroke-width="5.5" fill="#fff"/>
<path d="M696.3 1164.5V1185.7M691.9 1164.5h8.8M691.9 1185.7h8.8M766.2 1088.5V1126.2M761.8000000000001 1088.5h8.8M761.8000000000001 1126.2h8.8M835.9 1038.1V1073.3M831.5 1038.1h8.8M831.5 1073.3h8.8M906.0 1017.3V1046.9M901.6 1017.3h8.8M901.6 1046.9h8.8" stroke="#6FAB2E" stroke-width="4.6" fill="none"/>
<polyline points="696.3,1175.0 766.2,1107.3 835.9,1055.4 906.0,1032.5" stroke="#6FAB2E" stroke-width="4.6" fill="none" stroke-linejoin="round"/>
<circle cx="696.3" cy="1175.0" r="4.85" stroke="#6FAB2E" stroke-width="5.5" fill="#fff"/>
<circle cx="766.2" cy="1107.3" r="4.85" stroke="#6FAB2E" stroke-width="5.5" fill="#fff"/>
<circle cx="835.9" cy="1055.4" r="4.85" stroke="#6FAB2E" stroke-width="5.5" fill="#fff"/>
<circle cx="906.0" cy="1032.5" r="4.85" stroke="#6FAB2E" stroke-width="5.5" fill="#fff"/>
<path d="M235.7 1335.4499999999998V1659.15M233.54999999999998 1657H517.0" stroke="#404040" stroke-width="4.3" fill="none"/>
<path d="M235.7 1611.2h5.2M235.7 1520.0h5.2M235.7 1428.8h5.2M235.7 1337.6h5.2M270.6 1657v-5.2M340.5 1657v-5.2M410.3 1657v-5.2M480.3 1657v-5.2" stroke="#404040" stroke-width="4.2" fill="none"/>
<text x="199.70" y="1625.40" font-size="40" letter-spacing="2.200" font-weight="normal" fill="#231815" stroke="#231815" stroke-width="0.3">0</text>
<text x="156.00" y="1534.20" font-size="40" letter-spacing="2.200" font-weight="normal" fill="#231815" stroke="#231815" stroke-width="0.3">1.0</text>
<text x="156.00" y="1443.00" font-size="40" letter-spacing="2.200" font-weight="normal" fill="#231815" stroke="#231815" stroke-width="0.3">2.0</text>
<text x="156.00" y="1351.80" font-size="40" letter-spacing="2.200" font-weight="normal" fill="#231815" stroke="#231815" stroke-width="0.3">3.0</text>
<text x="259.80" y="1702.50" font-size="40" letter-spacing="0.000" font-weight="normal" fill="#231815" stroke="#231815" stroke-width="0.3">3</text>
<text x="329.20" y="1702.50" font-size="40" letter-spacing="0.000" font-weight="normal" fill="#231815" stroke="#231815" stroke-width="0.3">5</text>
<text x="399.00" y="1702.50" font-size="40" letter-spacing="0.000" font-weight="normal" fill="#231815" stroke="#231815" stroke-width="0.3">7</text>
<text x="469.00" y="1702.50" font-size="40" letter-spacing="0.000" font-weight="normal" fill="#231815" stroke="#231815" stroke-width="0.3">9</text>
<path d="M270.6 1545.1V1561.3M266.20000000000005 1545.1h8.8M266.20000000000005 1561.3h8.8M340.5 1396.3V1445.9M336.1 1396.3h8.8M336.1 1445.9h8.8M410.3 1369.6V1391.7M405.90000000000003 1369.6h8.8M405.90000000000003 1391.7h8.8M480.3 1360.1V1375.9M475.90000000000003 1360.1h8.8M475.90000000000003 1375.9h8.8" stroke="#898989" stroke-width="4.6" fill="none"/>
<polyline points="270.6,1553.2 340.5,1421.0 410.3,1380.3 480.3,1368.2" stroke="#898989" stroke-width="4.6" fill="none" stroke-linejoin="round"/>
<circle cx="270.6" cy="1553.2" r="4.85" stroke="#898989" stroke-width="5.5" fill="#fff"/>
<circle cx="340.5" cy="1421.0" r="4.85" stroke="#898989" stroke-width="5.5" fill="#fff"/>
<circle cx="410.3" cy="1380.3" r="4.85" stroke="#898989" stroke-width="5.5" fill="#fff"/>
<circle cx="480.3" cy="1368.2" r="4.85" stroke="#898989" stroke-width="5.5" fill="#fff"/>
<path d="M270.6 1598.2V1611.5M266.20000000000005 1598.2h8.8M266.20000000000005 1611.5h8.8M340.5 1534.1V1548.2M336.1 1534.1h8.8M336.1 1548.2h8.8M410.3 1477.3V1494.1M405.90000000000003 1477.3h8.8M405.90000000000003 1494.1h8.8M480.3 1438.5V1460.5M475.90000000000003 1438.5h8.8M475.90000000000003 1460.5h8.8" stroke="#0070C0" stroke-width="4.6" fill="none"/>
<polyline points="270.6,1604.5 340.5,1541.1 410.3,1485.6 480.3,1449.3" stroke="#0070C0" stroke-width="4.6" fill="none" stroke-linejoin="round"/>
<circle cx="270.6" cy="1604.5" r="4.85" stroke="#0070C0" stroke-width="5.5" fill="#fff"/>
<circle cx="340.5" cy="1541.1" r="4.85" stroke="#0070C0" stroke-width="5.5" fill="#fff"/>
<circle cx="410.3" cy="1485.6" r="4.85" stroke="#0070C0" stroke-width="5.5" fill="#fff"/>
<circle cx="480.3" cy="1449.3" r="4.85" stroke="#0070C0" stroke-width="5.5" fill="#fff"/>
<path d="M662 1335.4499999999998V1659.15M659.85 1657H943.3" stroke="#404040" stroke-width="4.3" fill="none"/>
<path d="M662 1611.2h5.2M662 1520.0h5.2M662 1428.8h5.2M662 1337.6h5.2M696.3 1657v-5.2M766.2 1657v-5.2M835.9 1657v-5.2M906.0 1657v-5.2" stroke="#404040" stroke-width="4.2" fill="none"/>
<text x="626.00" y="1625.40" font-size="40" letter-spacing="2.200" font-weight="normal" fill="#231815" stroke="#231815" stroke-width="0.3">0</text>
<text x="582.30" y="1534.20" font-size="40" letter-spacing="2.200" font-weight="normal" fill="#231815" stroke="#231815" stroke-width="0.3">1.0</text>
<text x="582.30" y="1443.00" font-size="40" letter-spacing="2.200" font-weight="normal" fill="#231815" stroke="#231815" stroke-width="0.3">2.0</text>
<text x="582.30" y="1351.80" font-size="40" letter-spacing="2.200" font-weight="normal" fill="#231815" stroke="#231815" stroke-width="0.3">3.0</text>
<text x="685.50" y="1702.50" font-size="40" letter-spacing="0.000" font-weight="normal" fill="#231815" stroke="#231815" stroke-width="0.3">3</text>
<text x="754.90" y="1702.50" font-size="40" letter-spacing="0.000" font-weight="normal" fill="#231815" stroke="#231815" stroke-width="0.3">5</text>
<text x="824.60" y="1702.50" font-size="40" letter-spacing="0.000" font-weight="normal" fill="#231815" stroke="#231815" stroke-width="0.3">7</text>
<text x="894.70" y="1702.50" font-size="40" letter-spacing="0.000" font-weight="normal" fill="#231815" stroke="#231815" stroke-width="0.3">9</text>
<path d="M696.3 1546.8V1568.4M691.9 1546.8h8.8M691.9 1568.4h8.8M766.2 1441.3V1479.2M761.8000000000001 1441.3h8.8M761.8000000000001 1479.2h8.8M835.9 1391.3V1411.7M831.5 1391.3h8.8M831.5 1411.7h8.8M906.0 1366.3V1386.3M901.6 1366.3h8.8M901.6 1386.3h8.8" stroke="#898989" stroke-width="4.6" fill="none"/>
<polyline points="696.3,1557.6 766.2,1460.2 835.9,1401.5 906.0,1376.2" stroke="#898989" stroke-width="4.6" fill="none" stroke-linejoin="round"/>
<circle cx="696.3" cy="1557.6" r="4.85" stroke="#898989" stroke-width="5.5" fill="#fff"/>
<circle cx="766.2" cy="1460.2" r="4.85" stroke="#898989" stroke-width="5.5" fill="#fff"/>
<circle cx="835.9" cy="1401.5" r="4.85" stroke="#898989" stroke-width="5.5" fill="#fff"/>
<circle cx="906.0" cy="1376.2" r="4.85" stroke="#898989" stroke-width="5.5" fill="#fff"/>
<path d="M696.3 1565.8V1580.3M691.9 1565.8h8.8M691.9 1580.3h8.8M766.2 1460.3V1491.7M761.8000000000001 1460.3h8.8M761.8000000000001 1491.7h8.8M835.9 1389.9V1415.3M831.5 1389.9h8.8M831.5 1415.3h8.8M906.0 1379.5V1400.9M901.6 1379.5h8.8M901.6 1400.9h8.8" stroke="#6FAB2E" stroke-width="4.6" fill="none"/>
<polyline points="696.3,1573.0 766.2,1476.0 835.9,1402.6 906.0,1390.5" stroke="#6FAB2E" stroke-width="4.6" fill="none" stroke-linejoin="round"/>
<circle cx="696.3" cy="1573.0" r="4.85" stroke="#6FAB2E" stroke-width="5.5" fill="#fff"/>
<circle cx="766.2" cy="1476.0" r="4.85" stroke="#6FAB2E" stroke-width="5.5" fill="#fff"/>
<circle cx="835.9" cy="1402.6" r="4.85" stroke="#6FAB2E" stroke-width="5.5" fill="#fff"/>
<circle cx="906.0" cy="1390.5" r="4.85" stroke="#6FAB2E" stroke-width="5.5" fill="#fff"/>
<line x1="260.7" y1="873.8" x2="309" y2="873.8" stroke="#898989" stroke-width="4.4"/>
<text x="330.60" y="882.90" font-size="34" letter-spacing="1.914" font-weight="normal" fill="#231815" stroke="#231815" stroke-width="0.3">Pre-cool</text>
<line x1="260.7" y1="922.7" x2="309" y2="922.7" stroke="#0070C0" stroke-width="4.4"/>
<text x="332.40" y="934.80" font-size="34" letter-spacing="2.000" font-weight="normal" fill="#231815" stroke="#231815" stroke-width="0.3">Cool</text>
<line x1="687.1" y1="872.9" x2="735.5" y2="872.9" stroke="#898989" stroke-width="4.4"/>
<text x="751.70" y="882.20" font-size="34" letter-spacing="2.186" font-weight="normal" fill="#231815" stroke="#231815" stroke-width="0.3">Pre-sham</text>
<line x1="687.1" y1="921.8" x2="735.5" y2="921.8" stroke="#6FAB2E" stroke-width="4.4"/>
<text x="754.00" y="934.40" font-size="34" letter-spacing="2.033" font-weight="normal" fill="#231815" stroke="#231815" stroke-width="0.3">Sham</text>
<text x="-3.00" y="0.00" font-size="40" letter-spacing="2.600" font-weight="normal" fill="#231815" stroke="#231815" stroke-width="0.3" transform="translate(73.9 1109.3) rotate(-90)">MA</text>
<text x="-3.00" y="0.00" font-size="40" letter-spacing="3.500" font-weight="normal" fill="#231815" stroke="#231815" stroke-width="0.3" transform="translate(74.2 1526.3) rotate(-90)">MB</text>
<text x="-3.00" y="0.00" font-size="40" letter-spacing="1.822" font-weight="normal" fill="#231815" stroke="#231815" stroke-width="0.3" transform="translate(130 1428.8) rotate(-90)">Behavioral</text>
<text x="-1.00" y="0.00" font-size="40" letter-spacing="2.700" font-weight="normal" fill="#231815" stroke="#231815" stroke-width="0.3" transform="translate(130 1213.8) rotate(-90)">d'</text>
<text x="350.90" y="1749.70" font-size="40" letter-spacing="2.160" font-weight="normal" fill="#231815" stroke="#231815" stroke-width="0.3">Number</text>
<text x="514.00" y="1749.70" font-size="40" letter-spacing="3.100" font-weight="normal" fill="#231815" stroke="#231815" stroke-width="0.3">of</text>
<text x="560.30" y="1749.70" font-size="40" letter-spacing="2.025" font-weight="normal" fill="#231815" stroke="#231815" stroke-width="0.3">collinear</text>
<text x="736.20" y="1749.70" font-size="40" letter-spacing="1.733" font-weight="normal" fill="#231815" stroke="#231815" stroke-width="0.3">bars</text>
<text x="11.30" y="870.00" font-size="40" letter-spacing="0.000" font-weight="bold" fill="#231815" stroke="#231815" stroke-width="0.3">b</text>
<text x="538.60" y="870.00" font-size="40" letter-spacing="0.000" font-weight="bold" fill="#231815" stroke="#231815" stroke-width="0.3">c</text>
<text x="995.90" y="870.00" font-size="40" letter-spacing="0.000" font-weight="bold" fill="#231815" stroke="#231815" stroke-width="0.3">d</text>
<text x="11.00" y="1303.20" font-size="40" letter-spacing="0.000" font-weight="bold" fill="#231815" stroke="#231815" stroke-width="0.3">e</text>
<text x="540.60" y="1303.20" font-size="40" letter-spacing="0.000" font-weight="bold" fill="#231815" stroke="#231815" stroke-width="0.3">f</text>
<text x="995.00" y="1303.20" font-size="40" letter-spacing="0.000" font-weight="bold" fill="#231815" stroke="#231815" stroke-width="0.3">g</text>
<rect x="1069.2" y="1010.5" width="42.59999999999991" height="90.79999999999995" fill="#4C9BD3"/>
<rect x="1122.3" y="1010.5" width="43.40000000000009" height="41.59999999999991" fill="#A0C770"/>
<line x1="1050.4" y1="1010.5" x2="1184.5" y2="1010.5" stroke="#404040" stroke-width="4.3"/>
<g fill="#0070C0"><circle cx="1091.0" cy="998.5" r="3.1"/><circle cx="1086.8" cy="1016.3" r="3.1"/><circle cx="1095.7" cy="1025.8" r="3.1"/><circle cx="1079.9" cy="1033.9" r="3.1"/><circle cx="1078.8" cy="1038.8" r="3.1"/><circle cx="1091.3" cy="1039.8" r="3.1"/><circle cx="1079.7" cy="1049.6" r="3.1"/><circle cx="1096.9" cy="1052.8" r="3.1"/><circle cx="1080.9" cy="1072.1" r="3.1"/><circle cx="1088.0" cy="1078.3" r="3.1"/><circle cx="1082.7" cy="1081.0" r="3.1"/><circle cx="1096.1" cy="1078.3" r="3.1"/><circle cx="1102.0" cy="1078.9" r="3.1"/><circle cx="1098.1" cy="1093.1" r="3.1"/><circle cx="1100.4" cy="1094.9" r="3.1"/><circle cx="1103.4" cy="1102.6" r="3.1"/><circle cx="1093.9" cy="1113.6" r="3.1"/><circle cx="1091.0" cy="1115.4" r="3.1"/><circle cx="1082.1" cy="1124.3" r="3.1"/><circle cx="1102.8" cy="1132.9" r="3.1"/><circle cx="1086.2" cy="1134.0" r="3.1"/><circle cx="1083.9" cy="1135.2" r="3.1"/><circle cx="1091.0" cy="1143.9" r="3.1"/><circle cx="1092.7" cy="1149.8" r="3.1"/><circle cx="1080.7" cy="1159.9" r="3.1"/><circle cx="1087.4" cy="1172.3" r="3.1"/><circle cx="1097.5" cy="1174.4" r="3.1"/><circle cx="1094.8" cy="1177.3" r="3.1"/><circle cx="1091.2" cy="1178.2" r="3.1"/><circle cx="1079.5" cy="1194.8" r="3.1"/></g>
<g fill="#6FAB2E"><circle cx="1151.6" cy="998.3" r="3.1"/><circle cx="1142.2" cy="1002.4" r="3.1"/><circle cx="1150.2" cy="1011.9" r="3.1"/><circle cx="1141.3" cy="1019.0" r="3.1"/><circle cx="1140.1" cy="1020.2" r="3.1"/><circle cx="1149.0" cy="1021.1" r="3.1"/><circle cx="1152.4" cy="1020.8" r="3.1"/><circle cx="1140.7" cy="1029.7" r="3.1"/><circle cx="1139.0" cy="1032.1" r="3.1"/><circle cx="1140.1" cy="1044.5" r="3.1"/><circle cx="1139.6" cy="1057.8" r="3.1"/><circle cx="1150.8" cy="1058.1" r="3.1"/><circle cx="1155.9" cy="1058.1" r="3.1"/><circle cx="1150.8" cy="1062.3" r="3.1"/><circle cx="1152.0" cy="1066.4" r="3.1"/><circle cx="1138.4" cy="1074.4" r="3.1"/><circle cx="1131.5" cy="1078.3" r="3.1"/><circle cx="1148.8" cy="1082.7" r="3.1"/><circle cx="1141.0" cy="1088.1" r="3.1"/><circle cx="1141.7" cy="1100.2" r="3.1"/><circle cx="1131.0" cy="1108.5" r="3.1"/><circle cx="1149.3" cy="1112.7" r="3.1"/><circle cx="1136.0" cy="1118.6" r="3.1"/><circle cx="1131.0" cy="1108.5" r="3.1"/><circle cx="1149.3" cy="1112.7" r="3.1"/><circle cx="1136.2" cy="1119.3" r="3.1"/><circle cx="1142.2" cy="1127.9" r="3.1"/><circle cx="1141.9" cy="1137.0" r="3.1"/><circle cx="1136.6" cy="960.9" r="3.1"/><circle cx="1154.4" cy="960.3" r="3.1"/><circle cx="1135.5" cy="985.9" r="3.1"/></g>
<rect x="1069.2" y="1010.5" width="42.59999999999991" height="90.79999999999995" fill="none" stroke="#000" stroke-width="3.9"/>
<rect x="1122.3" y="1010.5" width="43.40000000000009" height="41.59999999999991" fill="none" stroke="#000" stroke-width="3.9"/>
<path d="M1090.4 1091.8999999999999V1110.9M1086.0 1091.8999999999999h8.8M1086.0 1110.9h8.8" stroke="#000" stroke-width="3.9" fill="none"/>
<path d="M1143.9 1043.3999999999999V1059.9M1139.5 1043.3999999999999h8.8M1139.5 1059.9h8.8" stroke="#000" stroke-width="3.9" fill="none"/>
<path d="M1184.5 917.0V1241.2M1184.5 919.1h-5.6M1184.5 964.8h-5.6M1184.5 1010.5h-5.6M1184.5 1056.2h-5.6M1184.5 1101.9h-5.6M1184.5 1147.6h-5.6M1184.5 1193.3h-5.6M1184.5 1239.0h-5.6" stroke="#404040" stroke-width="4.3" fill="none"/>
<text x="1197.50" y="933.30" font-size="40" letter-spacing="-1.500" font-weight="normal" fill="#231815" stroke="#231815" stroke-width="0.3">1.0</text>
<text x="1197.20" y="1024.70" font-size="40" letter-spacing="0.000" font-weight="normal" fill="#231815" stroke="#231815" stroke-width="0.3">0</text>
<text x="1221.50" y="1116.10" font-size="40" letter-spacing="-2.300" font-weight="normal" fill="#231815" stroke="#231815" stroke-width="0.3">1.0</text>
<rect x="1198.2" y="1100.4" width="17.3" height="3" fill="#231815"/>
<text x="1218.00" y="1207.50" font-size="40" letter-spacing="-0.550" font-weight="normal" fill="#231815" stroke="#231815" stroke-width="0.3">2.0</text>
<rect x="1198.2" y="1191.8" width="17.3" height="3" fill="#231815"/>
<line x1="1083" y1="1225.4" x2="1151.1" y2="1225.4" stroke="#231815" stroke-width="3"/>
<text x="1098.10" y="1256.00" font-size="30" letter-spacing="1.350" font-weight="normal" fill="#231815" stroke="#231815" stroke-width="0.3">***</text>
<rect x="1068.6" y="1428.4" width="43.600000000000136" height="96.89999999999986" fill="#4C9BD3"/>
<rect x="1122" y="1428.4" width="44.200000000000045" height="11.399999999999864" fill="#A0C770"/>
<line x1="1050.2" y1="1428.4" x2="1184.5" y2="1428.4" stroke="#404040" stroke-width="4.3"/>
<g fill="#0070C0"><circle cx="1095.2" cy="1445.0" r="3.1"/><circle cx="1086.5" cy="1447.7" r="3.1"/><circle cx="1080.2" cy="1459.7" r="3.1"/><circle cx="1085.0" cy="1458.5" r="3.1"/><circle cx="1091.9" cy="1459.7" r="3.1"/><circle cx="1078.1" cy="1475.6" r="3.1"/><circle cx="1101.2" cy="1477.7" r="3.1"/><circle cx="1079.6" cy="1481.6" r="3.1"/><circle cx="1102.1" cy="1481.0" r="3.1"/><circle cx="1077.2" cy="1490.0" r="3.1"/><circle cx="1079.6" cy="1491.5" r="3.1"/><circle cx="1091.0" cy="1496.0" r="3.1"/><circle cx="1098.2" cy="1503.5" r="3.1"/><circle cx="1096.1" cy="1511.6" r="3.1"/><circle cx="1099.1" cy="1514.6" r="3.1"/><circle cx="1079.6" cy="1517.0" r="3.1"/><circle cx="1091.6" cy="1519.1" r="3.1"/><circle cx="1097.6" cy="1535.6" r="3.1"/><circle cx="1091.6" cy="1542.5" r="3.1"/><circle cx="1078.7" cy="1549.1" r="3.1"/><circle cx="1099.1" cy="1553.0" r="3.1"/><circle cx="1078.1" cy="1557.6" r="3.1"/><circle cx="1097.3" cy="1558.8" r="3.1"/><circle cx="1096.7" cy="1562.7" r="3.1"/><circle cx="1087.7" cy="1565.7" r="3.1"/><circle cx="1095.5" cy="1576.2" r="3.1"/><circle cx="1085.9" cy="1606.8" r="3.1"/><circle cx="1097.9" cy="1627.2" r="3.1"/><circle cx="1093.1" cy="1633.5" r="3.1"/><circle cx="1084.7" cy="1637.7" r="3.1"/></g>
<g fill="#6FAB2E"><circle cx="1133.0" cy="1351.9" r="3.1"/><circle cx="1132.1" cy="1373.0" r="3.1"/><circle cx="1136.0" cy="1372.1" r="3.1"/><circle cx="1148.6" cy="1371.2" r="3.1"/><circle cx="1147.1" cy="1388.6" r="3.1"/><circle cx="1153.7" cy="1395.5" r="3.1"/><circle cx="1136.6" cy="1419.5" r="3.1"/><circle cx="1147.7" cy="1419.5" r="3.1"/><circle cx="1151.6" cy="1420.1" r="3.1"/><circle cx="1144.1" cy="1424.6" r="3.1"/><circle cx="1149.5" cy="1423.1" r="3.1"/><circle cx="1135.1" cy="1429.1" r="3.1"/><circle cx="1132.1" cy="1434.5" r="3.1"/><circle cx="1156.1" cy="1435.1" r="3.1"/><circle cx="1150.1" cy="1441.7" r="3.1"/><circle cx="1134.5" cy="1451.6" r="3.1"/><circle cx="1151.0" cy="1458.5" r="3.1"/><circle cx="1141.1" cy="1460.6" r="3.1"/><circle cx="1151.6" cy="1462.1" r="3.1"/><circle cx="1148.6" cy="1464.5" r="3.1"/><circle cx="1139.0" cy="1465.1" r="3.1"/><circle cx="1133.6" cy="1467.5" r="3.1"/><circle cx="1135.7" cy="1469.6" r="3.1"/><circle cx="1133.6" cy="1494.2" r="3.1"/><circle cx="1146.2" cy="1519.1" r="3.1"/><circle cx="1140.5" cy="1523.6" r="3.1"/><circle cx="1150.1" cy="1555.5" r="3.1"/><circle cx="1139.6" cy="1444.7" r="3.1"/><circle cx="1149.0" cy="1434.5" r="3.1"/><circle cx="1139.6" cy="1434.3" r="3.1"/></g>
<rect x="1068.6" y="1428.4" width="43.600000000000136" height="96.89999999999986" fill="none" stroke="#000" stroke-width="3.9"/>
<rect x="1122" y="1428.4" width="44.200000000000045" height="11.399999999999864" fill="none" stroke="#000" stroke-width="3.9"/>
<path d="M1090.7 1516.3999999999999V1533.8M1086.3 1516.3999999999999h8.8M1086.3 1533.8h8.8" stroke="#000" stroke-width="3.9" fill="none"/>
<path d="M1143.9 1429.3999999999999V1447.3M1139.5 1429.3999999999999h8.8M1139.5 1447.3h8.8" stroke="#000" stroke-width="3.9" fill="none"/>
<path d="M1184.5 1334.6V1659.6M1184.5 1336.8h-5.6M1184.5 1382.6h-5.6M1184.5 1428.4h-5.6M1184.5 1474.2h-5.6M1184.5 1520.0h-5.6M1184.5 1565.8h-5.6M1184.5 1611.6h-5.6M1184.5 1657.4h-5.6M1048.1 1336.8H1186.65M1090.4 1336.8v5.4M1143.7 1336.8v5.4" stroke="#404040" stroke-width="4.3" fill="none"/>
<text x="1197.50" y="1351.00" font-size="40" letter-spacing="-1.500" font-weight="normal" fill="#231815" stroke="#231815" stroke-width="0.3">1.0</text>
<text x="1197.20" y="1442.60" font-size="40" letter-spacing="0.000" font-weight="normal" fill="#231815" stroke="#231815" stroke-width="0.3">0</text>
<text x="1221.50" y="1534.20" font-size="40" letter-spacing="-2.300" font-weight="normal" fill="#231815" stroke="#231815" stroke-width="0.3">1.0</text>
<rect x="1198.2" y="1518.5" width="17.3" height="3" fill="#231815"/>
<text x="1218.00" y="1625.80" font-size="40" letter-spacing="-0.550" font-weight="normal" fill="#231815" stroke="#231815" stroke-width="0.3">2.0</text>
<rect x="1198.2" y="1610.1" width="17.3" height="3" fill="#231815"/>
<line x1="1080" y1="1651.4" x2="1148.1" y2="1651.4" stroke="#231815" stroke-width="3"/>
<text x="1100.70" y="1680.00" font-size="30" letter-spacing="1.400" font-weight="normal" fill="#231815" stroke="#231815" stroke-width="0.3">***</text>
<text x="-3.00" y="0.00" font-size="40" letter-spacing="1.667" font-weight="normal" fill="#231815" stroke="#231815" stroke-width="0.3" transform="translate(1309.4 1091.5) rotate(90)">Mean</text>
<text x="-1.00" y="0.00" font-size="40" letter-spacing="1.280" font-weight="normal" fill="#231815" stroke="#231815" stroke-width="0.3" transform="translate(1309.4 1206.6) rotate(90)">change</text>
<text x="-2.00" y="0.00" font-size="40" letter-spacing="1.500" font-weight="normal" fill="#231815" stroke="#231815" stroke-width="0.3" transform="translate(1309.4 1356) rotate(90)">(Δd')</text>
<text x="-1.00" y="0.00" font-size="40" letter-spacing="1.275" font-weight="normal" fill="#231815" stroke="#231815" stroke-width="0.3" transform="translate(1106.4 1790.4) rotate(-90)">ΔCool</text>
<text x="-1.00" y="0.00" font-size="40" letter-spacing="1.275" font-weight="normal" fill="#231815" stroke="#231815" stroke-width="0.3" transform="translate(1159.7 1812.1000000000001) rotate(-90)">ΔSham</text>
</svg></body></html>
